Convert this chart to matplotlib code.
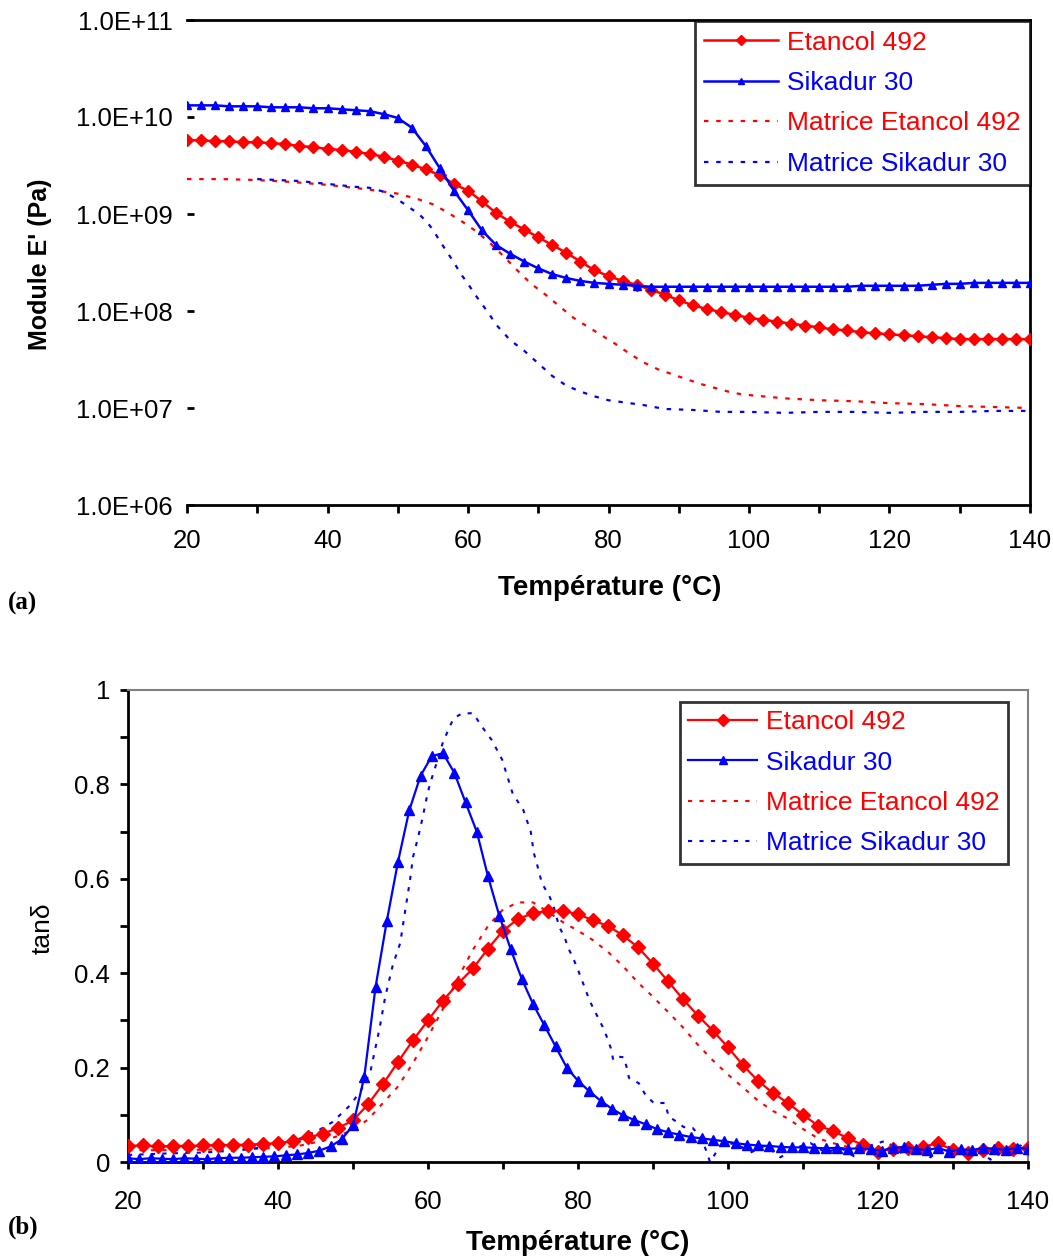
import numpy as np
import matplotlib
matplotlib.use("Agg")
import matplotlib.pyplot as plt
from matplotlib.ticker import MultipleLocator, FixedLocator, FuncFormatter, FixedFormatter

plt.rcParams['font.family'] = ['Liberation Sans', 'DejaVu Sans']

# ---------------- data: (a) storage modulus, log10(E' / Pa) ----------------
T_top = list(range(20, 141, 2))
logE_etancol = [9.76, 9.76, 9.75, 9.75, 9.74, 9.74, 9.73, 9.72, 9.70, 9.69, 9.67,
                9.66, 9.64, 9.62, 9.59, 9.55, 9.51, 9.46, 9.40, 9.31, 9.24,
                9.13, 9.01, 8.92, 8.84, 8.76, 8.68, 8.60, 8.51, 8.42, 8.36,
                8.31, 8.27, 8.22, 8.17, 8.11, 8.06, 8.02, 7.99, 7.96, 7.93,
                7.91, 7.89, 7.87, 7.85, 7.83, 7.81, 7.80, 7.78, 7.77, 7.76,
                7.75, 7.74, 7.73, 7.72, 7.71, 7.71, 7.71, 7.71, 7.71, 7.71]
logE_sikadur = [10.12, 10.12, 10.12, 10.11, 10.11, 10.11, 10.10, 10.10, 10.10, 10.09, 10.09,
                10.08, 10.07, 10.06, 10.03, 9.99, 9.89, 9.70, 9.47, 9.24, 9.04,
                8.83, 8.68, 8.59, 8.51, 8.44, 8.38, 8.34, 8.31, 8.29, 8.28,
                8.27, 8.26, 8.25, 8.25, 8.25, 8.25, 8.25, 8.25, 8.25, 8.25,
                8.25, 8.25, 8.25, 8.25, 8.25, 8.25, 8.25, 8.26, 8.26, 8.26,
                8.26, 8.26, 8.27, 8.28, 8.28, 8.29, 8.29, 8.29, 8.29, 8.29]
T_mat_etancol_top = [20, 25, 30, 35, 40, 45, 50, 53, 55, 57, 59, 61, 63, 65, 67, 69, 71, 73,
                     75, 77, 79, 81, 83, 85, 87, 89, 91, 93, 95, 97, 99, 102, 105, 110,
                     115, 120, 125, 130, 135, 140]
logE_mat_etancol = [9.36, 9.36, 9.35, 9.33, 9.30, 9.26, 9.21, 9.15, 9.10, 9.02, 8.93, 8.83,
                    8.71, 8.57, 8.42, 8.28, 8.17, 8.05, 7.93, 7.84, 7.75, 7.66, 7.56, 7.47,
                    7.40, 7.35, 7.30, 7.25, 7.21, 7.17, 7.14, 7.12, 7.10, 7.08, 7.07, 7.05,
                    7.04, 7.02, 7.01, 7.00]
T_mat_sikadur_top = [30, 33, 36, 40, 44, 46, 48, 50, 51, 52, 53, 54, 55, 56, 57, 58, 59, 60,
                     61, 62, 63, 64, 66, 68, 70, 72, 74, 76, 78, 80, 82, 85, 88, 92, 96,
                     100, 105, 110, 115, 120, 125, 130, 135, 140]
logE_mat_sikadur = [9.36, 9.35, 9.34, 9.31, 9.28, 9.27, 9.23, 9.15, 9.10, 9.05, 9.00, 8.93,
                    8.84, 8.72, 8.61, 8.50, 8.38, 8.28, 8.17, 8.07, 7.97, 7.86, 7.70, 7.59,
                    7.46, 7.33, 7.23, 7.17, 7.12, 7.08, 7.06, 7.03, 6.99, 6.98, 6.96, 6.96,
                    6.95, 6.96, 6.96, 6.95, 6.96, 6.96, 6.97, 6.97]

# ---------------- data: (b) tan delta ----------------
T_tan_etancol = list(range(20, 141, 2))
tan_etancol = [0.034, 0.035, 0.033, 0.034, 0.034, 0.035, 0.036, 0.036, 0.037, 0.038, 0.040,
               0.044, 0.052, 0.060, 0.072, 0.088, 0.122, 0.165, 0.212, 0.258, 0.300,
               0.342, 0.378, 0.410, 0.452, 0.490, 0.515, 0.527, 0.532, 0.532, 0.525,
               0.512, 0.500, 0.480, 0.455, 0.420, 0.383, 0.345, 0.310, 0.278, 0.243,
               0.205, 0.172, 0.146, 0.125, 0.100, 0.077, 0.066, 0.050, 0.036, 0.022,
               0.028, 0.030, 0.032, 0.040, 0.025, 0.020, 0.025, 0.030, 0.028, 0.030]
T_tan_sikadur = [20, 21.5, 23, 24.5, 26, 27.5, 29, 30.5, 32, 33.5,
                 35, 36.5, 38, 39.5, 41, 42.5, 44, 45.5, 47, 48.5,
                 50, 51.5, 53, 54.5, 56, 57.5, 59, 60.5, 62, 63.5,
                 65, 66.5, 68, 69.5, 71, 72.5, 74, 75.5, 77, 78.5,
                 80, 81.5, 83, 84.5, 86, 87.5, 89, 90.5, 92, 93.5,
                 95, 96.5, 98, 99.5, 101, 102.5, 104, 105.5, 107, 108.5,
                 110, 111.5, 113, 114.5, 116, 117.5, 119, 120.5, 122, 123.5,
                 125, 126.5, 128, 129.5, 131, 132.5, 134, 135.5, 137, 138.5, 140]
tan_sikadur = [0.008, 0.006, 0.008, 0.007, 0.006, 0.008, 0.007, 0.006, 0.008, 0.009,
               0.009, 0.010, 0.011, 0.012, 0.014, 0.016, 0.019, 0.024, 0.033, 0.048,
               0.078, 0.18, 0.37, 0.51, 0.636, 0.745, 0.818, 0.860, 0.866, 0.825,
               0.762, 0.700, 0.605, 0.522, 0.452, 0.388, 0.335, 0.29, 0.245, 0.200,
               0.172, 0.150, 0.130, 0.113, 0.099, 0.089, 0.080, 0.070, 0.063, 0.058,
               0.053, 0.050, 0.047, 0.044, 0.040, 0.037, 0.035, 0.034, 0.032, 0.031,
               0.031, 0.030, 0.029, 0.030, 0.028, 0.029, 0.027, 0.024, 0.030, 0.032,
               0.028, 0.025, 0.030, 0.022, 0.027, 0.025, 0.030, 0.028, 0.026, 0.030, 0.028]
T_tan_mat_etancol = [20, 25, 30, 35, 40, 43, 46, 48, 50, 52, 54, 56, 58, 60, 62, 64, 66, 68,
                     70, 72, 74, 76, 78, 80, 82, 84, 86, 88, 90, 92, 94, 96, 98, 100, 102,
                     104, 106, 108, 110, 112, 114, 116, 120, 125, 130, 135, 140]
tan_mat_etancol = [0.025, 0.025, 0.026, 0.027, 0.030, 0.035, 0.045, 0.055,
                   0.068, 0.090, 0.125, 0.160, 0.210, 0.265, 0.325, 0.390, 0.450, 0.500,
                   0.535, 0.550, 0.550, 0.530, 0.508, 0.490, 0.470, 0.445, 0.415, 0.380,
                   0.350, 0.318, 0.285, 0.248, 0.215, 0.185, 0.158, 0.130, 0.108, 0.092,
                   0.070, 0.050, 0.040, 0.032, 0.030, 0.028, 0.030, 0.025, 0.028]
T_tan_mat_sikadur = [20, 25, 30, 35, 40, 43, 45.5, 47.3, 49.6, 51,
                     52.3, 53.5, 54.3, 55.3, 56.3, 56.9, 57.6, 58, 58.7, 59.3,
                     59.9, 60.3, 61.2, 62, 62.7, 63.4, 64.5, 66, 67.3, 68.5,
                     69.2, 69.9, 70.4, 71.3, 72, 72.7, 73.7, 74.1, 74.5, 75.2,
                     76.1, 76.7, 77.5, 78.2, 78.7, 79.3, 80, 81.6, 83.3, 83.9,
                     84.4, 84.7, 85.4, 86.1, 86.5, 86.8, 88.1, 89, 90.1, 91.6,
                     92.1, 92.8, 94.1, 95.3, 96.5, 97.2, 97.6, 99, 101, 103,
                     105, 107, 109, 111, 113, 115, 117, 119, 121, 123,
                     125, 127, 129, 131, 133, 135, 137, 139, 140]
tan_mat_sikadur = [0.015, 0.018, 0.020, 0.025, 0.035, 0.050, 0.068, 0.085, 0.12, 0.15,
                   0.19, 0.28, 0.35, 0.417, 0.464, 0.527, 0.597, 0.646, 0.689, 0.731,
                   0.778, 0.803, 0.848, 0.89, 0.915, 0.94, 0.95, 0.951, 0.92, 0.894,
                   0.873, 0.852, 0.826, 0.78, 0.763, 0.746, 0.70, 0.655, 0.633, 0.59,
                   0.566, 0.544, 0.498, 0.477, 0.453, 0.434, 0.407, 0.34, 0.286, 0.263,
                   0.24, 0.216, 0.223, 0.222, 0.20, 0.178, 0.167, 0.142, 0.125, 0.125,
                   0.096, 0.089, 0.074, 0.072, 0.05, 0.019, 0.0, 0.035, 0.04, 0.02,
                   0.035, 0.01, 0.03, 0.04, 0.02, 0.03, 0.01, 0.035, 0.045, 0.02,
                   0.03, 0.01, 0.035, 0.02, 0.03, 0.005, 0.03, 0.035, 0.02]

labels = ["Etancol 492", "Sikadur 30", "Matrice Etancol 492", "Matrice Sikadur 30"]
x_ticks = [20, 40, 60, 80, 100, 120, 140]
y_ticks_top = [1e6, 1e7, 1e8, 1e9, 1e10, 1e11]
y_ticks_bot = [0, 0.2, 0.4, 0.6, 0.8, 1.0]
y_ticklabels_bot = ["0", "0.2", "0.4", "0.6", "0.8", "1"]

RED = "#ff0000"
BLUE = "#0000ff"
W, H = 1053, 1258
fig = plt.figure(figsize=(W / 100, H / 100), dpi=100)

def px_rect(x0, y0, x1, y1):
    return [x0 / W, 1 - y1 / H, (x1 - x0) / W, (y1 - y0) / H]

dotted = (0, (2, 3.5))
LEG_FS = 19
TICK_FS = 18.5

# ---------------- (a) ----------------
ax1 = fig.add_axes(px_rect(187, 20, 1030, 505))
ax1.plot(T_mat_etancol_top, 10 ** np.array(logE_mat_etancol), color=RED, ls=dotted, lw=1.6,
         label=labels[2], zorder=2)
ax1.plot(T_mat_sikadur_top, 10 ** np.array(logE_mat_sikadur), color=BLUE, ls=dotted, lw=1.6,
         label=labels[3], zorder=2)
ax1.plot(T_top, 10 ** np.array(logE_etancol), color=RED, lw=1.8, marker='D', ms=6,
         mec=RED, mfc=RED, label=labels[0], zorder=3)
ax1.plot(T_top, 10 ** np.array(logE_sikadur), color=BLUE, lw=1.8, marker='^', ms=6,
         mec=BLUE, mfc=BLUE, label=labels[1], zorder=4)
ax1.set_yscale('log')
ax1.set_xlim(20, 140)
ax1.set_ylim(1e6, 1e11)
ax1.yaxis.set_major_locator(FixedLocator(y_ticks_top))
ax1.yaxis.set_minor_locator(FixedLocator([]))
ax1.yaxis.set_major_formatter(FuncFormatter(lambda v, p: "1.0E+%02d" % int(round(np.log10(v)))))
ax1.xaxis.set_major_locator(FixedLocator(x_ticks))
ax1.xaxis.set_minor_locator(MultipleLocator(10))
ax1.spines['left'].set_visible(False)
for s in ['top', 'right', 'bottom']:
    ax1.spines[s].set_linewidth(2)
    ax1.spines[s].set_color('black')
ax1.tick_params(axis='y', which='major', direction='in', length=5, width=2, pad=10,
                labelsize=TICK_FS)
ax1.tick_params(axis='x', which='both', direction='out', length=6, width=2, pad=11,
                labelsize=TICK_FS)
h, l = ax1.get_legend_handles_labels()
order = [2, 3, 0, 1]
leg1 = ax1.legend([h[i] for i in order], [l[i] for i in order], loc='upper right',
                  bbox_to_anchor=(1.0, 0.997), fontsize=LEG_FS, frameon=True, fancybox=False,
                  edgecolor='black', labelcolor='linecolor', handlelength=2.8,
                  handletextpad=0.35, labelspacing=0.62, borderpad=0.35, markerscale=0.8,
                  borderaxespad=0.0)
leg1.get_frame().set_linewidth(2)

# ---------------- (b) ----------------
ax2 = fig.add_axes(px_rect(128, 690, 1028, 1162))
ax2.plot(T_tan_mat_etancol, tan_mat_etancol, color=RED, ls=dotted, lw=1.5,
         label=labels[2], zorder=2)
ax2.plot(T_tan_mat_sikadur, tan_mat_sikadur, color=BLUE, ls=dotted, lw=1.5,
         label=labels[3], zorder=2)
ax2.plot(T_tan_etancol, tan_etancol, color=RED, lw=1.6, marker='D', ms=7,
         mec=RED, mfc=RED, label=labels[0], zorder=3)
ax2.plot(T_tan_sikadur, tan_sikadur, color=BLUE, lw=1.6, marker='^', ms=7,
         mec=BLUE, mfc=BLUE, label=labels[1], zorder=4)
ax2.set_xlim(20, 140)
ax2.set_ylim(0, 1)
ax2.xaxis.set_major_locator(FixedLocator(x_ticks))
ax2.xaxis.set_minor_locator(MultipleLocator(10))
ax2.yaxis.set_major_locator(FixedLocator(y_ticks_bot))
ax2.yaxis.set_major_formatter(FixedFormatter(y_ticklabels_bot))
ax2.yaxis.set_minor_locator(MultipleLocator(0.1))
for s in ['left', 'bottom']:
    ax2.spines[s].set_linewidth(2)
    ax2.spines[s].set_color('black')
for s in ['top', 'right']:
    ax2.spines[s].set_linewidth(1.5)
    ax2.spines[s].set_color('#808080')
ax2.tick_params(axis='y', which='both', direction='out', length=6, width=2, pad=7,
                labelsize=TICK_FS)
ax2.tick_params(axis='x', which='both', direction='out', length=5, width=2, pad=15,
                labelsize=TICK_FS)
h, l = ax2.get_legend_handles_labels()
leg2 = ax2.legend([h[i] for i in order], [l[i] for i in order], loc='upper right',
                  bbox_to_anchor=(0.978, 0.975), fontsize=LEG_FS, frameon=True, fancybox=False,
                  edgecolor='black', labelcolor='linecolor', handlelength=2.6,
                  handletextpad=0.35, labelspacing=0.62, borderpad=0.32, markerscale=0.9,
                  borderaxespad=0.0)
leg2.get_frame().set_linewidth(2)

# ---------------- labels ----------------
def ftext(x, y, s, **kw):
    fig.text(x / W, 1 - y / H, s, **kw)

ftext(40, 264, "Module E' (Pa)", rotation=90, ha='center', va='center',
      fontsize=18, fontweight='bold')
ftext(610, 588, "Température (°C)", ha='center', va='center', fontsize=20, fontweight='bold')
ftext(8, 603, "(a)", ha='left', va='center', fontsize=18, fontweight='bold',
      family=['Liberation Serif', 'DejaVu Serif'])
ftext(43, 928, "tanδ", rotation=90, ha='center', va='center', fontsize=19)
ftext(578, 1243, "Température (°C)", ha='center', va='center', fontsize=20, fontweight='bold')
ftext(8, 1227, "(b)", ha='left', va='center', fontsize=18, fontweight='bold',
      family=['Liberation Serif', 'DejaVu Serif'])

fig.savefig("out.png", dpi=100)
